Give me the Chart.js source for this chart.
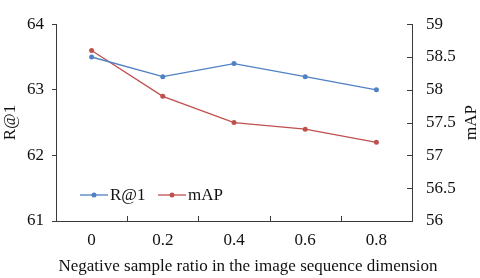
<!DOCTYPE html>
<html>
<head>
<meta charset="utf-8">
<script src="https://cdn.jsdelivr.net/npm/chart.js@4/dist/chart.umd.min.js"></script>
<style>
  html, body { margin: 0; padding: 0; background: #fff; }
  #wrap { width: 480px; height: 278px; }
</style>
</head>
<body>
<div id="wrap"><canvas id="lineChart"></canvas></div>
<script>
// chart data
var ratios = ['0', '0.2', '0.4', '0.6', '0.8'];
var r1Values = [63.5, 63.2, 63.4, 63.2, 63.0];
var mapValues = [58.6, 57.9, 57.5, 57.4, 57.2];
var r1Ticks = [61, 62, 63, 64];
var mapTicks = [56, 56.5, 57, 57.5, 58, 58.5, 59];
var xTitle = 'Negative sample ratio in the image sequence dimension';

var blue = '#4f81c4';
var red = '#c0504d';
var axisColor = '#3a3a3a';
var font = 'Liberation Serif';
var fontSize = 17;

// inward tick marks, axis titles that Chart.js can't place, and the legend inside the plot
var extras = {
    id: 'extras',
    afterDraw: function(chart) {
        var ctx = chart.ctx;
        var area = chart.chartArea;
        var x = chart.scales.x;
        var y1 = chart.scales.y1;
        ctx.save();
        ctx.strokeStyle = axisColor;
        ctx.lineWidth = 1;
        // x ticks between categories, pointing up
        for (var i = 1; i < ratios.length; i++) {
            var px = Math.round((x.getPixelForTick(i - 1) + x.getPixelForTick(i)) / 2) + 0.5;
            ctx.beginPath();
            ctx.moveTo(px, area.bottom);
            ctx.lineTo(px, area.bottom - 5);
            ctx.stroke();
        }
        // right axis ticks, pointing left
        mapTicks.forEach(function(v) {
            var py = Math.round(y1.getPixelForValue(v)) + 0.5;
            ctx.beginPath();
            ctx.moveTo(area.right, py);
            ctx.lineTo(area.right - 5, py);
            ctx.stroke();
        });
        ctx.fillStyle = '#111';
        ctx.font = fontSize + 'px "' + font + '"';
        ctx.textAlign = 'center';
        ctx.textBaseline = 'middle';
        // x axis title, wider than the plot so drawn here
        ctx.fillText(xTitle, (area.left + area.right) / 2 + 14, 267);
        // right axis title, reading bottom to top
        ctx.translate(472, (area.top + area.bottom) / 2);
        ctx.rotate(-Math.PI / 2);
        ctx.fillText('mAP', 0, 0);
        ctx.restore();

        // legend
        ctx.save();
        var ly = area.bottom - 26;
        var items = [
            { label: 'R@1', color: blue, x: area.left + 24 },
            { label: 'mAP', color: red, x: area.left + 102 }
        ];
        ctx.font = fontSize + 'px "' + font + '"';
        ctx.textBaseline = 'middle';
        ctx.textAlign = 'left';
        items.forEach(function(it) {
            ctx.strokeStyle = it.color;
            ctx.lineWidth = 1.3;
            ctx.beginPath();
            ctx.moveTo(it.x, ly);
            ctx.lineTo(it.x + 28, ly);
            ctx.stroke();
            ctx.fillStyle = it.color;
            ctx.beginPath();
            ctx.arc(it.x + 14, ly, 2.5, 0, Math.PI * 2);
            ctx.fill();
            ctx.fillStyle = '#111';
            ctx.fillText(it.label, it.x + 30, ly + 1);
        });
        ctx.restore();
    }
};

var ctx = document.getElementById('lineChart').getContext('2d');
var lineChart = new Chart(ctx, {
    type: 'line',
    data: {
        labels: ratios,
        datasets: [{
            label: 'R@1',
            data: r1Values,
            yAxisID: 'y',
            borderColor: blue,
            backgroundColor: blue,
            borderWidth: 1.3,
            pointRadius: 2.5,
            pointBorderWidth: 0,
            fill: false,
            tension: 0
        }, {
            label: 'mAP',
            data: mapValues,
            yAxisID: 'y1',
            borderColor: red,
            backgroundColor: red,
            borderWidth: 1.3,
            pointRadius: 2.5,
            pointBorderWidth: 0,
            fill: false,
            tension: 0
        }]
    },
    options: {
        responsive: true,
        maintainAspectRatio: false,
        animation: false,
        layout: { padding: { top: 10, left: 0, right: 0, bottom: 0 } },
        plugins: {
            legend: { display: false },
            tooltip: { enabled: false }
        },
        scales: {
            x: {
                type: 'category',
                offset: true,
                grid: { display: true, drawOnChartArea: false, drawTicks: false },
                border: { color: axisColor, width: 1 },
                ticks: { color: '#111', font: { family: font, size: fontSize }, padding: 9 },
                afterFit: function(scale) { scale.height = 57; }
            },
            y: {
                position: 'left',
                min: 61,
                max: 64,
                afterBuildTicks: function(scale) {
                    scale.ticks = r1Ticks.map(function(v) { return { value: v }; });
                },
                grid: { drawOnChartArea: false, drawTicks: true, tickLength: 4, color: axisColor },
                border: { color: axisColor, width: 1 },
                ticks: { color: '#111', font: { family: font, size: fontSize }, padding: 8 },
                title: {
                    display: true,
                    text: 'R@1',
                    color: '#111',
                    font: { family: font, size: fontSize },
                    padding: { top: 0, bottom: 0 }
                },
                afterFit: function(scale) { scale.width = 56; }
            },
            y1: {
                position: 'right',
                min: 56,
                max: 59,
                afterBuildTicks: function(scale) {
                    scale.ticks = mapTicks.map(function(v) { return { value: v }; });
                },
                grid: { drawOnChartArea: false, drawTicks: false },
                border: { color: axisColor, width: 1 },
                ticks: {
                    color: '#111',
                    font: { family: font, size: fontSize },
                    padding: 14,
                    callback: function(value) { return String(value); }
                },
                afterFit: function(scale) { scale.width = 68; }
            }
        }
    },
    plugins: [extras]
});
</script>
</body>
</html>
